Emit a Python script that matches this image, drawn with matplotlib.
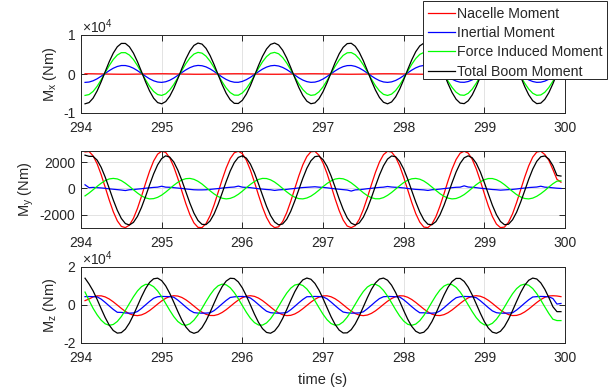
import matplotlib
matplotlib.use('Agg')
import matplotlib.pyplot as plt
from matplotlib.lines import Line2D
from matplotlib.patches import Rectangle
from matplotlib.ticker import FuncFormatter

plt.rcParams['font.family'] = ['Liberation Sans', 'DejaVu Sans']
plt.rcParams['axes.unicode_minus'] = False
plt.rcParams['mathtext.fontset'] = 'custom'
plt.rcParams['mathtext.rm'] = 'Liberation Sans'
plt.rcParams['mathtext.it'] = 'Liberation Sans:italic'

# ---------------- data ----------------
time = [294.05, 294.1, 294.15, 294.2, 294.25, 294.3, 294.35, 294.4, 294.45, 294.5,
        294.55, 294.6, 294.65, 294.7, 294.75, 294.8, 294.85, 294.9, 294.95,
        295.0, 295.05, 295.1, 295.15, 295.2, 295.25, 295.3, 295.35, 295.4, 295.45,
        295.5, 295.55, 295.6, 295.65, 295.7, 295.75, 295.8, 295.85, 295.9, 295.95,
        296.0, 296.05, 296.1, 296.15, 296.2, 296.25, 296.3, 296.35, 296.4, 296.45,
        296.5, 296.55, 296.6, 296.65, 296.7, 296.75, 296.8, 296.85, 296.9, 296.95,
        297.0, 297.05, 297.1, 297.15, 297.2, 297.25, 297.3, 297.35, 297.4, 297.45,
        297.5, 297.55, 297.6, 297.65, 297.7, 297.75, 297.8, 297.85, 297.9, 297.95,
        298.0, 298.05, 298.1, 298.15, 298.2, 298.25, 298.3, 298.35, 298.4, 298.45,
        298.5, 298.55, 298.6, 298.65, 298.7, 298.75, 298.8, 298.85, 298.9, 298.95,
        299.0, 299.05, 299.1, 299.15, 299.2, 299.25, 299.3, 299.35, 299.4, 299.45,
        299.5, 299.55, 299.6, 299.65, 299.7, 299.75, 299.8, 299.85, 299.9, 299.95]

series_names = ['Nacelle Moment', 'Inertial Moment', 'Force Induced Moment', 'Total Boom Moment']

# M_x
mx_nacelle = [60, 60, 50, 30, 20, 0, -20, -40, -50, -60,
              -60, -50, -40, -20, 0, 20, 30, 50, 60, 60,
              60, 40, 30, 10, -10, -30, -40, -60, -60, -60,
              -50, -40, -20, 0, 20, 40, 50, 60, 60, 50,
              40, 20, 0, -20, -30, -50, -60, -60, -60, -50,
              -30, -10, 10, 30, 40, 50, 60, 60, 50, 40,
              20, 0, -20, -40, -50, -60, -60, -50, -40, -30,
              -10, 10, 30, 50, 60, 60, 60, 50, 30, 10,
              -10, -30, -40, -50, -60, -60, -50, -40, -20, 0,
              20, 40, 50, 60, 60, 50, 40, 30, 10, -10,
              -30, -50, -60, -60, -60, -50, -30, -10, 10, 30,
              40, 50, 60, 60, 50, 40, 20, 0, -20]
mx_inertial = [-2150, -2060, -1740, -1230, -570, 150, 860, 1480, 1930, 2170,
               2170, 1930, 1480, 860, 150, -570, -1230, -1740, -2060, -2150,
               -1990, -1610, -1040, -360, 370, 1060, 1630, 2030, 2200, 2120,
               1820, 1310, 660, -60, -780, -1400, -1860, -2110, -2130, -1900,
               -1450, -850, -140, 580, 1250, 1770, 2100, 2200, 2050, 1680,
               1130, 450, -280, -980, -1560, -1960, -2140, -2080, -1790, -1290,
               -640, 80, 790, 1420, 1890, 2150, 2180, 1960, 1530, 930,
               230, -500, -1160, -1700, -2040, -2150, -2020, -1660, -1110, -430,
               300, 990, 1580, 2000, 2190, 2140, 1860, 1370, 730, 10,
               -710, -1340, -1820, -2100, -2130, -1930, -1510, -920, -220, 510,
               1180, 1720, 2080, 2200, 2080, 1730, 1190, 520, -210, -910,
               -1510, -1930, -2140, -2100, -1830, -1350, -710, 0, 720]
mx_force = [-5490, -5270, -4470, -3150, -1490, 350, 2150, 3720, 4860, 5470,
            5470, 4860, 3720, 2150, 350, -1490, -3150, -4470, -5270, -5490,
            -5090, -4120, -2690, -950, 900, 2650, 4110, 5110, 5540, 5350,
            4570, 3280, 1630, -200, -2010, -3590, -4770, -5410, -5440, -4860,
            -3730, -2190, -400, 1440, 3120, 4460, 5300, 5540, 5180, 4230,
            2820, 1090, -750, -2520, -3990, -5020, -5480, -5330, -4580, -3310,
            -1670, 160, 1970, 3570, 4770, 5430, 5500, 4950, 3850, 2330,
            540, -1300, -2990, -4350, -5220, -5500, -5160, -4250, -2850, -1140,
            710, 2480, 3980, 5030, 5520, 5400, 4680, 3430, 1810, -10,
            -1830, -3440, -4670, -5370, -5460, -4950, -3880, -2360, -590, 1260,
            2960, 4340, 5240, 5550, 5250, 4360, 2990, 1280, -570, -2350,
            -3860, -4940, -5460, -5370, -4680, -3460, -1850, -40, 1790]
mx_total = [-7640, -7330, -6190, -4340, -1990, 610, 3150, 5360, 6980, 7840,
            7840, 6980, 5360, 3150, 610, -1990, -4340, -6190, -7330, -7640,
            -7070, -5700, -3680, -1220, 1390, 3860, 5910, 7330, 7930, 7670,
            6570, 4740, 2410, -170, -2730, -4960, -6610, -7520, -7560, -6750,
            -5150, -2980, -440, 2150, 4530, 6410, 7590, 7940, 7430, 6090,
            4100, 1660, -950, -3440, -5520, -6970, -7620, -7410, -6350, -4550,
            -2240, 340, 2900, 5150, 6840, 7790, 7880, 7110, 5550, 3400,
            880, -1720, -4110, -6030, -7250, -7650, -7170, -5880, -3910, -1490,
            1120, 3610, 5730, 7210, 7910, 7740, 6720, 4960, 2670, 100,
            -2470, -4750, -6470, -7460, -7600, -6870, -5360, -3220, -720, 1890,
            4300, 6240, 7510, 7950, 7520, 6270, 4330, 1920, -680, -3200,
            -5330, -6850, -7600, -7470, -6490, -4770, -2500, 60, 2640]

# M_y
my_nacelle = [2800, 2830, 2500, 1890, 1060, 90, -890, -1780, -2480, -2910,
              -3000, -2810, -2290, -1530, -600, 390, 1320, 2100, 2630, 2850,
              2760, 2350, 1660, 780, -200, -1170, -2010, -2640, -2980, -3000,
              -2690, -2090, -1260, -300, 680, 1570, 2290, 2730, 2850, 2670,
              2170, 1410, 490, -500, -1440, -2220, -2770, -3000, -2940, -2540,
              -1860, -990, -10, 960, 1810, 2450, 2810, 2840, 2550, 1960,
              1150, 200, -790, -1690, -2420, -2880, -3000, -2850, -2360, -1620,
              -700, 290, 1230, 2030, 2590, 2850, 2790, 2400, 1740, 870,
              -100, -1070, -1930, -2580, -2960, -3000, -2730, -2160, -1350, -410,
              580, 1490, 2220, 2700, 2850, 2710, 2230, 1500, 590, -400,
              -1350, -2150, -2730, -3000, -2960, -2590, -1940, -1080, -110, 860,
              1730, 2400, 2790, 2850, 2600, 2150, 1450, 700, 480]
my_inertial = [280, 60, 80, 60, 40, 10, -30, -60, -90, -120,
               -160, -100, -80, -50, -20, 20, 50, 80, 100, 170,
               100, 90, 60, 30, 0, -40, -70, -100, -110, -110,
               -100, -70, -40, -10, 30, 60, 90, 110, 180, 100,
               80, 60, 20, -20, -50, -80, -100, -150, -110, -90,
               -70, -30, 0, 40, 70, 90, 110, 130, 100, 80,
               50, 10, -30, -60, -90, -120, -200, -110, -90, -60,
               -20, 10, 50, 80, 100, 150, 110, 90, 70, 40,
               0, -40, -70, -90, -110, -150, -100, -80, -50, -10,
               20, 60, 90, 100, 200, 110, 90, 60, 20, -10,
               -50, -80, -100, -130, -110, -90, -70, -40, 0, 30,
               70, 90, 110, 170, 100, 80, 50, 20, 0]
my_force = [-570, -350, -100, 160, 400, 600, 730, 770, 730, 600,
            400, 160, -100, -350, -570, -720, -800, -780, -680, -510,
            -280, -20, 240, 470, 650, 750, 770, 700, 550, 340,
            80, -180, -420, -620, -750, -800, -760, -640, -450, -210,
            60, 310, 530, 690, 770, 760, 660, 490, 260, 0,
            -260, -490, -670, -780, -800, -730, -590, -380, -130, 140,
            380, 580, 720, 770, 740, 620, 430, 190, -70, -330,
            -550, -710, -790, -790, -700, -530, -310, -50, 210, 450,
            630, 740, 770, 710, 570, 360, 110, -150, -400, -600,
            -740, -800, -770, -650, -470, -230, 30, 290, 510, 670,
            760, 760, 670, 510, 290, 30, -230, -470, -650, -770,
            -800, -740, -600, -400, -160, 110, 360, 560, 580]
my_total = [2550, 2460, 2460, 2170, 1620, 870, 0, -880, -1670, -2300,
            -2690, -2800, -2600, -2140, -1450, -620, 270, 1110, 1810, 2290,
            2500, 2400, 2030, 1410, 620, -260, -1130, -1890, -2450, -2750,
            -2770, -2490, -1950, -1210, -350, 530, 1340, 1980, 2380, 2500,
            2320, 1870, 1190, 360, -520, -1370, -2080, -2570, -2790, -2720,
            -2360, -1750, -960, -90, 780, 1550, 2120, 2440, 2480, 2210,
            1690, 960, 100, -790, -1600, -2250, -2660, -2800, -2640, -2200,
            -1530, -710, 180, 1030, 1740, 2250, 2490, 2430, 2080, 1490,
            710, -170, -1040, -1810, -2400, -2740, -2780, -2540, -2020, -1290,
            -440, 440, 1260, 1920, 2350, 2500, 2350, 1930, 1270, 450,
            -430, -1290, -2010, -2530, -2780, -2740, -2400, -1820, -1050, -180,
            700, 1480, 2080, 2430, 2490, 2250, 1750, 1000, 950]

# M_z
mz_nacelle = [2300, 3160, 4250, 4830, 4830, 4250, 3160, 1670, -40, -1790,
              -3370, -4620, -5380, -5600, -5210, -4290, -2930, -1270, 480, 2140,
              3530, 4480, 4890, 4710, 3970, 2740, 1170, -570, -2290, -3790,
              -4900, -5510, -5540, -4990, -3920, -2460, -750, 1000, 2600, 3860,
              4660, 4890, 4550, 3650, 2310, 660, -1090, -2770, -4170, -5140,
              -5580, -5440, -4720, -3520, -1960, -220, 1500, 3020, 4150, 4790,
              4850, 4330, 3290, 1840, 140, -1610, -3220, -4510, -5330, -5600,
              -5280, -4410, -3090, -1450, 300, 1980, 3400, 4400, 4870, 4760,
              4070, 2890, 1350, -390, -2110, -3650, -4810, -5470, -5560, -5080,
              -4060, -2620, -930, 820, 2440, 3750, 4600, 4900, 4610, 3770,
              2460, 840, -910, -2600, -4040, -5060, -5560, -5480, -4820, -3660,
              -2140, -410, 1320, 2870, 4060, 4750, 4880, 4750, 4400]
mz_inertial = [4400, 4450, 4400, 4300, 3090, 1360, -510, -2310, -3840, -3900,
               -4200, -4300, -4200, -3420, -1790, 50, 1890, 3540, 4350, 4500,
               4450, 4400, 4100, 2590, 800, -1060, -2800, -4000, -4250, -4300,
               -4250, -4100, -2960, -1250, 620, 2420, 3960, 4300, 4450, 4500,
               4350, 3690, 2080, 250, -1610, -3270, -4050, -4250, -4300, -4200,
               -3970, -2480, -700, 1170, 2920, 4350, 4400, 4500, 4450, 4300,
               3250, 1550, -310, -2130, -3700, -4100, -4300, -4250, -4150, -3570,
               -1970, -150, 1710, 3390, 4350, 4500, 4450, 4350, 4240, 2770,
               1000, -870, -2630, -4090, -4100, -4300, -4300, -4150, -3130, -1440,
               420, 2240, 3820, 4350, 4500, 4450, 4300, 3840, 2260, 440,
               -1410, -3110, -4050, -4300, -4300, -4200, -4100, -2650, -890, 970,
               2740, 4220, 4400, 4500, 4450, 4300, 3400, 500, 800]
mz_force = [6800, 2400, -1760, -5180, -7990, -9900, -10690, -10250, -8670, -6090,
            -2820, 790, 4330, 7400, 9650, 10850, 10850, 9650, 7400, 4330,
            790, -2820, -6090, -8670, -10250, -10690, -9900, -7990, -5180, -1760,
            1880, 5300, 8170, 10130, 10980, 10610, 9080, 6540, 3300, -290,
            -3850, -6960, -9260, -10520, -10580, -9440, -7230, -4200, -670, 2940,
            6240, 8850, 10500, 10990, 10270, 8420, 5640, 2240, -1380, -4840,
            -7740, -9760, -10660, -10360, -8890, -6390, -3180, 410, 3970, 7110,
            9460, 10770, 10900, 9830, 7670, 4670, 1170, -2450, -5770, -8440,
            -10150, -10700, -10040, -8240, -5500, -2130, 1500, 4970, 7910, 9970,
            10950, 10710, 9290, 6840, 3650, 70, -3500, -6660, -9060, -10440,
            -10620, -9620, -7510, -4540, -1050, 2570, 5920, 8620, 10380, 11000,
            10400, 8660, 5970, 2610, -1010, -4500, -7480, -8200, -8200]
mz_total = [14100, 11040, 7420, 2920, -1940, -6620, -10590, -13430, -14800, -14550,
            -12720, -9500, -5270, -480, 4320, 8610, 11890, 13790, 14130, 12830,
            10070, 6140, 1480, -3380, -7900, -11580, -14000, -14900, -14170, -11890,
            -8320, -3870, 990, 5690, 9700, 12610, 14070, 13910, 12150, 9010,
            4800, 30, -4790, -9110, -12440, -14430, -14860, -13650, -10940, -7070,
            -2430, 2430, 6980, 10710, 13210, 14190, 13550, 11350, 7840, 3420,
            -1430, -6160, -10230, -13200, -14720, -14650, -12980, -9900, -5750, -990,
            3840, 8210, 11610, 13680, 14170, 13050, 10420, 6590, 1990, -2880,
            -7460, -11250, -13820, -14890, -14320, -12190, -8750, -4370, 480, 5220,
            9340, 12380, 13990, 13990, 12410, 9380, 5280, 540, -4290, -8700,
            -12150, -14300, -14890, -13840, -11290, -7510, -2940, 1920, 6530, 10370,
            13020, 14170, 13690, 11640, 8250, 3900, -920, -3500, -3500]

x_ticks = [294, 295, 296, 297, 298, 299, 300]
mx_ticks = [-10000, 0, 10000]
my_ticks = [-2000, 0, 2000]
mz_ticks = [-20000, 0, 20000]

# ---------------- drawing ----------------
colors = ['#ff0000', '#0000ff', '#00ff00', '#000000']
W, H = 613, 391
fig = plt.figure(figsize=(W / 100, H / 100), dpi=100)

def px_axes(x0, y0, x1, y1):
    return fig.add_axes([x0 / W, 1 - y1 / H, (x1 - x0) / W, (y1 - y0) / H])

panels = [
    (px_axes(81, 35, 565, 113), [mx_nacelle, mx_inertial, mx_force, mx_total],
     (-10000, 10000), mx_ticks, 1e4, r'M$_\mathregular{x}$ (Nm)'),
    (px_axes(81, 151, 565, 228), [my_nacelle, my_inertial, my_force, my_total],
     (-3030, 2870), my_ticks, 1, r'M$_\mathregular{y}$ (Nm)'),
    (px_axes(81, 267, 565, 343), [mz_nacelle, mz_inertial, mz_force, mz_total],
     (-20000, 20000), mz_ticks, 1e4, r'M$_\mathregular{z}$ (Nm)'),
]

edge = '#262626'
for ax, data, ylim, yt, scale, ylab in panels:
    for vals, c in zip(data, colors):
        ax.plot(time, vals, color=c, lw=0.9)
    ax.set_xlim(294, 300)
    ax.set_ylim(*ylim)
    ax.set_xticks(x_ticks)
    ax.set_yticks(yt)
    ax.yaxis.set_major_formatter(FuncFormatter(lambda v, p, s=scale: '%g' % (v / s)))
    ax.grid(True, color='#e3e3e3', lw=0.7)
    ax.set_axisbelow(True)
    for sp in ax.spines.values():
        sp.set_color(edge)
        sp.set_linewidth(0.7)
    ax.tick_params(direction='in', length=4, width=0.7, colors=edge,
                   top=True, right=True, labelsize=10, pad=4)
    ax.tick_params(axis='x', pad=5.5)
    ax.set_ylabel(ylab, fontsize=10.5, color=edge, labelpad=3)

panels[2][0].set_xlabel('time (s)', fontsize=10.5, color=edge, labelpad=6)

fig.text(82 / W, 1 - 33 / H, r'$\times\mathregular{10^{4}}$', fontsize=10,
         color=edge, ha='left', va='baseline')
fig.text(82 / W, 1 - 265 / H, r'$\times\mathregular{10^{4}}$', fontsize=10,
         color=edge, ha='left', va='baseline')

# legend frame drawn separately so its box matches the reference
frame = Rectangle((423 / W, 1 - 79 / H), 184 / W, 78 / H, transform=fig.transFigure,
                  facecolor='white', edgecolor=edge, lw=0.7, zorder=4)
fig.add_artist(frame)

handles = [Line2D([], [], color=c, lw=0.9) for c in colors]
leg = fig.legend(handles, series_names, loc='upper right',
                 bbox_to_anchor=(607 / W, 1 - 3 / H), fontsize=10.2,
                 frameon=False, borderpad=0.3, labelspacing=0.36,
                 handlelength=1.9, handletextpad=0.15, borderaxespad=0)
leg.set_zorder(5)
for t in leg.get_texts():
    t.set_color(edge)

fig.savefig('out.png', dpi=100)
